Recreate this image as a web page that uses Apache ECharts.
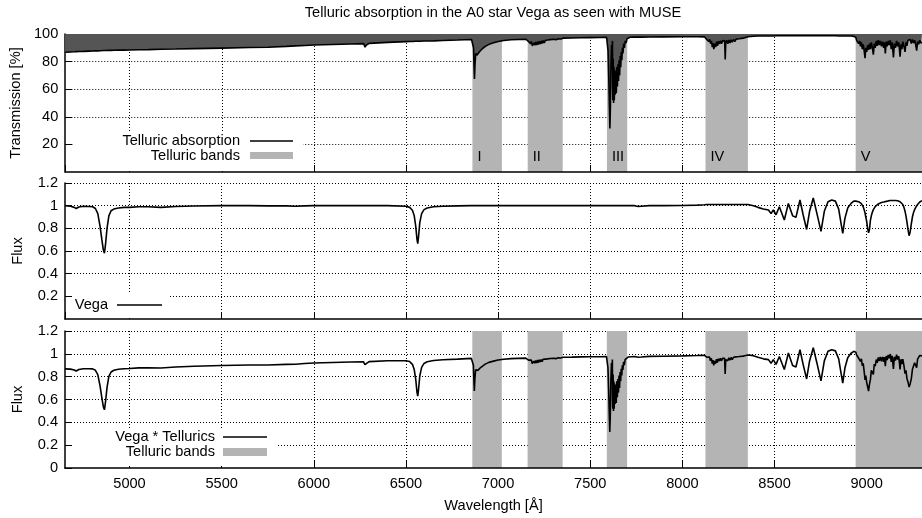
<!DOCTYPE html>
<html>
<head>
<meta charset="utf-8">
<script src="https://cdn.jsdelivr.net/npm/echarts@6/dist/echarts.min.js"></script>
<style>
  html, body { margin: 0; padding: 0; background: #fff; }
  #chart { width: 922px; height: 518px; }
</style>
</head>
<body>
<div id="chart"></div>
<script>
// Wavelength grid [Å] shared by the three spectra
const wavelength = [
  // blue continuum, Hβ, Hα
  4650,4680,4700,4711,4725,4750,4780,4800,4815,4828,4840,4850,4858,4864,4870,4878,4888,4900,4915,4940,
  4970,5000,5050,5100,5170,5250,5350,5500,5650,5750,5850,5900,5950,6000,6100,6200,6270,6277,6280,6284,
  6300,6400,6500,6520,6535,6545,6553,6560,6564,6568,6575,6585,6598,6615,6650,6700,6780,6855,
  // band I
  6862,6866,6869,6871,6874,6878,6884,6890,6897,6905,6915,6930,6950,6975,7000,7030,7070,7110,7150,
  // band II
  7160,7165,7170,7175,7180,7185,7190,7194,7199,7204,7209,7214,7219,7224,7229,7234,7239,7244,7250,7256,
  7262,7268,7275,7283,7292,7302,7314,7326,7340,7352,
  7400,7450,7500,7550,7588,
  // band III (O2 A band)
  7592,7596,7600,7603,7606,7609,7612,7615,7618,7620,7621,7622,7624,7626,7628,7630,7632,7635,7638,7641,
  7644,7647,7650,7653,7656,7659,7662,7665,7668,7671,7674,7677,7681,7685,7689,7694,7699,7705,7715,
  7740,7760,7768,7776,7820,7900,8000,8080,8120,
  // band IV
  8127,8132,8137,8142,8147,8152,8157,8162,8166,8170,8175,8180,8185,8190,8195,8200,8206,8212,8218,8224,
  8229,8232,8235,8240,8246,8252,8258,8264,8270,8277,8284,8291,8299,8308,8318,8330,8342,8356,
  // Paschen series
  8385,8410,8439,8467,8481,8493,8508,8526,8553,8575,8598,8616,8638,8655,8674,8690,8710,8730,8752,8770,
  8790,8810,8830,8848,8860,8870,8882,8897,8915,8930,
  // band V
  8941,8946,8951,8956,8961,8966,8971,8976,8981,8986,8991,8995,9000,9005,9010,9015,9020,9025,9030,9036,
  9041,9046,9052,9057,9063,9068,9074,9080,9086,9092,9096,9101,9106,9111,9117,9122,9128,9133,9138,9145,
  9150,9156,9162,9168,9174,9181,9186,9191,9196,9202,9208,9213,9218,9224,9230,9236,9242,9248,9254,9260,
  9266,9271,9276,9282,9288,9294,9300
];

// Telluric transmission [%]
const transmission = [
  86.8,87.0,87.1,87.2,87.3,87.4,87.6,87.7,87.8,87.8,87.9,87.9,88.0,88.0,88.0,88.0,88.1,88.1,88.2,88.3,
  88.3,88.4,88.6,88.7,88.9,89.1,89.4,89.8,90.2,90.4,91.0,91.4,91.7,92.0,92.4,92.8,93.0,90.5,89.5,92.0,
  93.2,93.9,94.5,94.6,94.6,94.7,94.7,94.7,94.7,94.8,94.8,94.8,94.9,94.9,95.0,95.3,95.6,96.0,
  96.0,90.0,75.0,67.5,78.0,86.0,84.5,85.5,87.0,88.0,89.5,91.0,92.5,93.6,94.6,95.3,95.8,96.0,96.2,
  96.0,94.5,95.3,93.0,94.6,91.5,90.8,93.6,91.8,94.2,92.0,94.5,92.3,94.8,92.8,95.0,93.2,95.2,93.6,95.4,
  94.2,95.6,94.6,95.9,95.2,96.2,95.8,96.5,96.4,97.0,
  97.1,97.3,97.4,97.5,97.6,
  96.5,88.0,68.0,48.0,31.5,48.0,78.0,92.0,88.0,95.0,60.0,52.0,82.0,50.0,76.0,52.0,74.0,56.0,73.0,57.0,
  76.0,62.0,78.0,66.0,81.0,70.0,84.0,76.0,87.0,81.0,90.0,86.0,93.0,90.0,95.0,93.5,96.5,97.2,97.6,
  97.7,97.7,97.7,97.7,97.8,97.9,98.0,98.0,97.9,
  97.6,96.0,97.0,94.5,96.2,93.0,95.0,90.5,93.5,89.0,93.0,90.5,94.5,91.5,94.8,92.8,95.0,93.0,95.2,93.8,
  95.0,81.5,94.0,95.5,93.0,95.6,93.5,95.8,94.0,96.0,94.5,96.3,95.0,96.6,95.8,97.0,97.5,98.0,
  98.4,98.5,98.6,98.6,98.6,98.6,98.7,98.7,98.7,98.7,98.7,98.7,98.7,98.7,98.7,98.7,98.7,98.7,98.7,98.7,
  98.7,98.7,98.7,98.6,98.6,98.6,98.6,98.6,98.5,98.3,
  97.5,95.0,96.0,93.0,95.0,91.0,94.0,89.0,92.5,88.0,82.5,90.0,87.0,92.0,88.5,93.0,89.0,94.0,90.5,85.0,
  93.0,90.0,95.0,91.5,95.5,92.0,95.0,91.0,94.5,90.0,94.0,86.0,94.5,91.0,95.0,92.0,95.5,89.0,94.0,83.0,
  93.0,90.0,95.0,91.0,94.0,83.5,92.5,89.0,94.5,91.0,87.0,94.0,91.5,95.5,96.5,96.0,93.0,96.0,93.5,95.5,
  92.0,88.0,94.5,92.5,95.5,93.5,94.0
];

// Normalised flux of Vega
const vegaFlux = [
  1.000,0.995,0.985,0.975,0.988,0.995,0.993,0.990,0.975,0.930,0.820,0.700,0.610,0.580,0.660,0.800,0.910,0.955,0.970,0.980,
  0.985,0.985,0.990,0.990,0.985,0.993,0.997,1.000,1.000,0.998,0.998,0.995,0.998,1.000,1.000,1.000,1.000,1.000,1.000,1.000,
  1.000,1.000,0.995,0.985,0.960,0.910,0.820,0.700,0.665,0.720,0.850,0.930,0.965,0.980,0.990,0.995,0.998,1.000,
  1.000,1.000,1.000,1.000,1.000,1.000,1.000,1.000,1.000,1.000,1.000,1.000,1.000,1.000,1.000,1.000,1.000,1.000,1.000,
  1.000,1.000,1.000,1.000,1.000,1.000,1.000,1.000,1.000,1.000,1.000,1.000,1.000,1.000,1.000,1.000,1.000,1.000,1.000,1.000,
  1.000,1.000,1.000,1.000,1.000,1.000,1.000,1.000,1.000,1.000,
  1.000,1.000,1.000,1.000,1.000,
  1.000,1.000,1.000,1.000,1.000,1.000,1.000,1.000,1.000,1.000,1.000,1.000,1.000,1.000,1.000,1.000,1.000,1.000,1.000,1.000,
  1.000,1.000,1.000,1.000,1.000,1.000,1.000,1.000,1.000,1.000,1.000,1.000,1.000,1.000,1.000,1.000,1.000,1.000,1.000,
  1.000,0.993,0.985,0.995,1.000,1.000,1.002,1.005,1.008,
  1.010,1.010,1.010,1.010,1.010,1.010,1.010,1.010,1.010,1.010,1.010,1.010,1.010,1.010,1.010,1.010,1.010,1.010,1.010,1.010,
  1.010,1.010,1.010,1.010,1.010,1.010,1.010,1.010,1.010,1.010,1.010,1.010,1.010,1.010,1.010,1.010,1.010,1.010,
  1.000,0.985,0.970,0.962,0.930,0.962,0.920,0.990,0.873,1.020,0.910,0.897,1.050,0.920,0.790,0.950,1.068,0.930,0.773,0.950,
  1.035,1.050,1.040,0.970,0.850,0.755,0.890,0.980,1.020,1.040,
  1.040,1.040,1.038,1.035,1.030,1.025,1.018,1.008,0.990,0.965,0.935,0.900,0.860,0.800,0.760,0.790,0.870,0.910,0.940,0.965,
  0.980,0.992,1.000,1.008,1.015,1.020,1.024,1.028,1.030,1.032,1.034,1.036,1.038,1.040,1.042,1.043,1.045,1.045,1.045,1.046,
  1.046,1.046,1.045,1.044,1.040,1.035,1.030,1.022,1.010,0.985,0.950,0.910,0.860,0.790,0.735,0.770,0.840,0.900,0.940,0.965,
  0.985,0.998,1.010,1.022,1.032,1.040,1.045
];

// Vega as observed through the atmosphere
const vegaTellurics = [
  0.868,0.866,0.858,0.850,0.863,0.870,0.870,0.868,0.856,0.817,0.721,0.615,0.537,0.510,0.581,0.704,0.802,0.841,0.856,0.865,
  0.870,0.871,0.877,0.878,0.876,0.885,0.891,0.898,0.902,0.902,0.908,0.909,0.915,0.920,0.924,0.928,0.930,0.905,0.895,0.920,
  0.932,0.939,0.940,0.932,0.908,0.862,0.777,0.663,0.630,0.683,0.806,0.882,0.916,0.930,0.941,0.948,0.954,0.960,
  0.960,0.900,0.750,0.675,0.780,0.860,0.845,0.855,0.870,0.880,0.895,0.910,0.925,0.936,0.946,0.953,0.958,0.960,0.962,
  0.960,0.945,0.953,0.930,0.946,0.915,0.908,0.936,0.918,0.942,0.920,0.945,0.923,0.948,0.928,0.950,0.932,0.952,0.936,0.954,
  0.942,0.956,0.946,0.959,0.952,0.962,0.958,0.965,0.964,0.970,
  0.971,0.973,0.974,0.975,0.976,
  0.965,0.880,0.680,0.480,0.315,0.480,0.780,0.920,0.880,0.950,0.600,0.520,0.820,0.500,0.760,0.520,0.740,0.560,0.730,0.570,
  0.760,0.620,0.780,0.660,0.810,0.700,0.840,0.760,0.870,0.810,0.900,0.860,0.930,0.900,0.950,0.935,0.965,0.972,0.976,
  0.977,0.970,0.962,0.972,0.978,0.979,0.982,0.985,0.987,
  0.986,0.970,0.980,0.954,0.972,0.939,0.960,0.914,0.944,0.899,0.939,0.914,0.954,0.924,0.957,0.937,0.960,0.939,0.962,0.947,
  0.960,0.823,0.949,0.965,0.939,0.966,0.944,0.968,0.949,0.970,0.954,0.973,0.960,0.976,0.968,0.980,0.985,0.990,
  0.984,0.970,0.956,0.949,0.917,0.949,0.908,0.977,0.862,1.007,0.898,0.885,1.036,0.908,0.780,0.938,1.054,0.918,0.763,0.938,
  1.022,1.036,1.026,0.956,0.838,0.744,0.878,0.966,1.005,1.022,
  1.014,0.988,0.996,0.963,0.979,0.933,0.957,0.897,0.916,0.849,0.771,0.810,0.748,0.736,0.673,0.735,0.774,0.855,0.851,0.820,
  0.911,0.893,0.950,0.922,0.969,0.938,0.973,0.935,0.973,0.929,0.972,0.891,0.981,0.946,0.990,0.960,0.998,0.930,0.982,0.868,
  0.973,0.941,0.993,0.950,0.978,0.864,0.953,0.910,0.954,0.896,0.827,0.855,0.787,0.754,0.709,0.739,0.781,0.864,0.879,0.922,
  0.906,0.878,0.954,0.945,0.986,0.972,0.982
];

// Telluric bands [Å]
const bandNames = ['I', 'II', 'III', 'IV', 'V'];
const bandStart = [6860, 7160, 7590, 8125, 8940];
const bandEnd   = [7020, 7350, 7700, 8355, 9300];

const FONT = '"Liberation Sans", Arial, Helvetica, sans-serif';
const FONT_SIZE = 14.6;
const BAND_GREY = '#b4b4b4';
const CURVE_WIDTH = 1.6;

function pairs(values) {
  return wavelength.map((w, i) => [w, values[i]]);
}

function bandAreas(withLabels) {
  return bandNames.map((name, i) => [
    { xAxis: bandStart[i], name: withLabels ? name : '' },
    { xAxis: bandEnd[i] }
  ]);
}

// x axis carrying ticks, grid lines and (bottom panel) labels
function waveAxis(gridIndex, withLabels) {
  const axis = {
    type: 'value', gridIndex, min: 4650, max: 9300,
    splitNumber: 9, minInterval: 500, maxInterval: 500,
    axisLine: { show: false },
    axisTick: { show: true, inside: true, length: 7, lineStyle: { color: '#000', width: 1 } },
    axisLabel: withLabels
      ? { show: true, margin: 8, color: '#000', fontSize: FONT_SIZE, fontFamily: FONT,
          showMinLabel: false, showMaxLabel: false, formatter: v => String(v) }
      : { show: false },
    splitLine: { show: true, showMinLine: false, showMaxLine: false, lineStyle: { color: '#000', type: [1, 2], width: 1 } },
    z: 0
  };
  if (withLabels) {
    axis.name = 'Wavelength [Å]';
    axis.nameLocation = 'middle';
    axis.nameGap = 30;
    axis.nameTextStyle = { color: '#000', fontSize: FONT_SIZE, fontFamily: FONT };
  }
  return axis;
}

// solid bottom border, drawn above the shaded bands
function frameAxis(gridIndex) {
  return {
    type: 'value', gridIndex, min: 4650, max: 9300, position: 'bottom',
    axisLine: { show: true, lineStyle: { color: '#000', width: 1.5 } },
    axisTick: { show: false }, axisLabel: { show: false }, splitLine: { show: false },
    z: 5
  };
}

function valueAxis(gridIndex, name, max, interval, showZero) {
  return {
    type: 'value', gridIndex, min: 0, max, interval,
    name, nameLocation: 'middle', nameGap: 40,
    nameTextStyle: { color: '#000', fontSize: FONT_SIZE, fontFamily: FONT },
    axisLine: { show: true, lineStyle: { color: '#000', width: 1.5 } },
    axisTick: { show: true, inside: true, length: 7, lineStyle: { color: '#000', width: 1 } },
    axisLabel: { color: '#000', fontSize: FONT_SIZE, fontFamily: FONT, margin: 7, showMinLabel: showZero },
    splitLine: { show: true, showMinLine: false, lineStyle: { color: '#000', type: [1, 2], width: 1 } }
  };
}

function legendText(x, y, text) {
  return { type: 'text', x, y, z: 51,
    style: { text, fill: '#000', font: FONT_SIZE + 'px ' + FONT, align: 'right', verticalAlign: 'middle' } };
}
function legendLine(x1, x2, y) {
  return { type: 'line', z: 51, shape: { x1, y1: y, x2, y2: y }, style: { stroke: '#000', lineWidth: CURVE_WIDTH } };
}
function legendBox(x, y, width, height, fill) {
  return { type: 'rect', z: 50, shape: { x, y, width, height }, style: { fill } };
}

const chart = echarts.init(document.getElementById('chart'), null, { renderer: 'canvas' });

chart.setOption({
  animation: false,
  backgroundColor: '#fff',
  title: {
    text: 'Telluric absorption in the A0 star Vega as seen with MUSE',
    left: 493, top: 5, padding: 0, textAlign: 'center',
    textStyle: { color: '#000', fontSize: FONT_SIZE, fontWeight: 'normal', fontFamily: FONT }
  },
  grid: [
    { left: 65, right: 0, top: 34, height: 138 },
    { left: 65, right: 0, top: 183, height: 136 },
    { left: 65, right: 0, top: 331, height: 137 }
  ],
  xAxis: [
    waveAxis(0, false), frameAxis(0),
    waveAxis(1, false), frameAxis(1),
    waveAxis(2, true), frameAxis(2)
  ],
  yAxis: [
    valueAxis(0, 'Transmission [%]', 100, 20, false),
    valueAxis(1, 'Flux', 1.2, 0.2, false),
    valueAxis(2, 'Flux', 1.2, 0.2, true)
  ],
  series: [
    {
      name: 'Telluric bands', type: 'line', xAxisIndex: 0, yAxisIndex: 0, data: [], z: 1,
      markArea: {
        silent: true,
        itemStyle: { color: BAND_GREY, opacity: 1 },
        label: { show: true, position: 'insideBottomLeft', distance: 5, offset: [0, -3],
                 color: '#000', fontSize: FONT_SIZE, fontFamily: FONT },
        data: bandAreas(true)
      }
    },
    {
      name: 'Telluric absorption', type: 'line', xAxisIndex: 0, yAxisIndex: 0,
      data: pairs(transmission), showSymbol: false, symbol: 'none', z: 3,
      lineStyle: { color: '#000', width: CURVE_WIDTH },
      areaStyle: { origin: 'end', color: '#555555', opacity: 1 }
    },
    {
      name: 'Vega', type: 'line', xAxisIndex: 2, yAxisIndex: 1,
      data: pairs(vegaFlux), showSymbol: false, symbol: 'none', z: 3,
      lineStyle: { color: '#000', width: CURVE_WIDTH }
    },
    {
      name: 'Telluric bands (combined)', type: 'line', xAxisIndex: 4, yAxisIndex: 2, data: [], z: 1,
      markArea: {
        silent: true,
        itemStyle: { color: BAND_GREY, opacity: 1 },
        label: { show: false },
        data: bandAreas(false)
      }
    },
    {
      name: 'Vega * Tellurics', type: 'line', xAxisIndex: 4, yAxisIndex: 2,
      data: pairs(vegaTellurics), showSymbol: false, symbol: 'none', z: 3,
      lineStyle: { color: '#000', width: CURVE_WIDTH }
    }
  ],
  graphic: [
    // key of the transmission panel
    legendBox(74, 133, 229, 38, '#fff'),
    legendText(240, 141, 'Telluric absorption'),
    legendLine(250, 293, 141),
    legendText(240, 156, 'Telluric bands'),
    legendBox(250, 152, 43, 7, BAND_GREY),
    // key of the Vega panel
    legendBox(73, 292, 97, 26, '#fff'),
    legendText(108, 305, 'Vega'),
    legendLine(117, 162, 305),
    // key of the combined panel
    legendBox(74, 428, 203, 38, '#fff'),
    legendText(215, 437, 'Vega * Tellurics'),
    legendLine(223, 267, 437),
    legendText(215, 452, 'Telluric bands'),
    legendBox(223, 448, 44, 8, BAND_GREY)
  ]
});
</script>
</body>
</html>
